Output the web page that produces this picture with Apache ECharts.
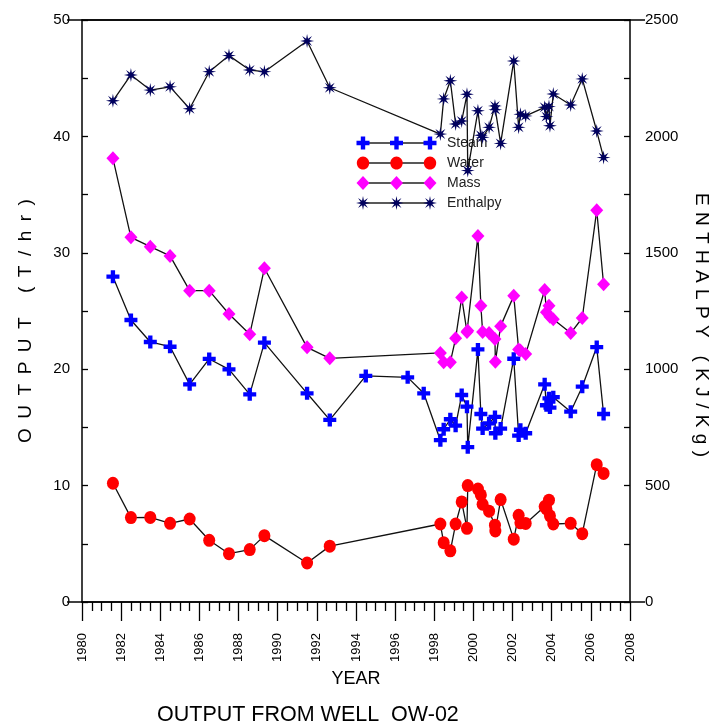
<!DOCTYPE html>
<html>
<head>
<meta charset="utf-8">
<script src="https://cdn.jsdelivr.net/npm/echarts@6/dist/echarts.min.js"></script>
<style>
  html, body { margin: 0; padding: 0; background: #fff; overflow: hidden; }
  #chart { width: 714px; height: 726px; }
</style>
</head>
<body>
<div id="chart"></div>
<script>
// Sampling dates (decimal years) shared by every series; null = not measured that day
const years = [
  1981.58, 1982.50, 1983.49, 1984.50, 1985.50, 1986.50, 1987.51, 1988.57, 1989.32,
  1991.50, 1992.66, 1994.50, 1996.64, 1997.46,
  1998.31, 1998.48, 1998.82, 1999.09, 1999.40, 1999.67, 1999.71, 2000.23, 2000.38,
  2000.47, 2000.80, 2001.10, 2001.12, 2001.39, 2002.06, 2002.31, 2002.40, 2002.67,
  2003.64, 2003.73, 2003.86, 2003.91, 2004.08, 2004.97, 2005.56, 2006.30, 2006.65
];

// Steam flow, T/hr
const steam = [
  27.95, 24.23, 22.34, 21.93, 18.70, 20.88, 19.99, 17.84, 22.28,
  17.93, 15.64, 19.42, 19.30, 17.93,
  13.90, 14.84, 15.70, 15.15, 17.78, 16.78, 13.30, 21.70, 16.15,
  14.90, 15.35, 15.90, 14.50, 14.90, 20.90, 14.30, 14.80, 14.50,
  18.70, 16.90, 17.50, 16.70, 17.60, 16.35, 18.50, 21.90, 16.15
];

// Water flow, T/hr
const water = [
  10.20, 7.25, 7.27, 6.76, 7.13, 5.30, 4.15, 4.50, 5.70,
  3.35, 4.80, null, null, null,
  6.70, 5.10, 4.40, 6.70, 8.60, 6.33, 10.00, 9.70, 9.20,
  8.40, 7.80, 6.60, 6.10, 8.80, 5.40, 7.45, 6.80, 6.75,
  8.20, 8.00, 8.75, 7.40, 6.70, 6.76, 5.87, 11.80, 11.05
];

// Total mass flow, T/hr
const mass = [
  38.12, 31.33, 30.53, 29.73, 26.75, 26.75, 24.74, 23.00, 28.67,
  21.88, 20.93, null, null, null,
  21.40, 20.60, 20.60, 22.65, 26.15, 23.20, 23.30, 31.45, 25.45,
  23.20, 23.10, 22.60, 20.65, 23.70, 26.30, 21.70, 21.60, 21.30,
  26.80, 24.90, 25.45, 24.50, 24.30, 23.10, 24.40, 33.65, 27.30
];

// Discharge enthalpy, kJ/kg
const enthalpy = [
  2153, 2264, 2199, 2213, 2119, 2278, 2347, 2285, 2278,
  2410, 2209, null, null, null,
  2010, 2161, 2239, 2053, 2066, 2181, 1853, 2110, 2005,
  1996, 2039, 2131, 2115, 1970, 2324, 2039, 2095, 2088,
  2125, 2085, 2128, 2046, 2182, 2135, 2247, 2023, 1909
];

const seriesNames = ['Steam', 'Water', 'Mass', 'Enthalpy'];
const seriesColors = ['#0000ff', '#ff0000', '#ff00ff', '#00005e'];
const yearRange = [1980, 2008];
const outputRange = [0, 50];
const enthalpyRange = [0, 2500];

const FONT = '"Liberation Sans", Arial, sans-serif';
// wide letter spacing for the axis titles
const spaced = (s, gap) => s.split('').join(gap);

// marker shapes (unit boxes, ECharts scales them to symbolSize)
const PLUS = 'path://M4,0H8V4H12V8H8V12H4V8H0V4H4Z';
function starPath(n, rOut, rIn) {
  const pts = [];
  for (let i = 0; i < n * 2; i++) {
    const a = -Math.PI / 2 + i * Math.PI / n;
    const r = i % 2 ? rIn : rOut;
    pts.push([+(rOut + r * Math.cos(a)).toFixed(3), +(rOut + r * Math.sin(a)).toFixed(3)]);
  }
  return pts;
}
const STAR_PTS = starPath(8, 6, 2.1);
const STAR = 'path://M' + STAR_PTS.map(p => p.join(',')).join('L') + 'Z';
const symbols = [PLUS, 'circle', 'diamond', STAR];
const symbolSizes = [13, [12, 13], [13, 14], 14];

const pair = arr => years.map((y, i) => [y, arr[i]]);
const dataSets = [steam, water, mass, enthalpy];

const series = dataSets.map((arr, k) => ({
  name: seriesNames[k],
  type: 'line',
  yAxisIndex: k === 3 ? 1 : 0,
  data: pair(arr),
  connectNulls: true,
  symbol: symbols[k],
  symbolSize: symbolSizes[k],
  showAllSymbol: true,
  lineStyle: { color: '#111', width: 1.3 },
  itemStyle: { color: seriesColors[k], borderWidth: 0, opacity: 1 },
  emphasis: { disabled: true },
  animation: false,
  z: 2 + k
}));

// Legend drawn as a sample line carrying three markers per entry
function marker(k, cx, cy) {
  const c = seriesColors[k];
  if (k === 1) return { type: 'ellipse', shape: { cx, cy, rx: 6.2, ry: 6.6 }, style: { fill: c } };
  if (k === 2) return { type: 'polygon', shape: { points: [[cx, cy - 7], [cx + 6.5, cy], [cx, cy + 7], [cx - 6.5, cy]] }, style: { fill: c } };
  if (k === 0) {
    const a = 2.2, b = 6.5;
    return { type: 'polygon', shape: { points: [
      [cx - a, cy - b], [cx + a, cy - b], [cx + a, cy - a], [cx + b, cy - a], [cx + b, cy + a], [cx + a, cy + a],
      [cx + a, cy + b], [cx - a, cy + b], [cx - a, cy + a], [cx - b, cy + a], [cx - b, cy - a], [cx - a, cy - a]] }, style: { fill: c } };
  }
  return { type: 'polygon', shape: { points: STAR_PTS.map(p => [cx - 7 + p[0] * 14 / 12, cy - 7 + p[1] * 14 / 12]) }, style: { fill: c } };
}
const legendElems = [];
seriesNames.forEach((nm, k) => {
  const y = 143 + k * 20;
  legendElems.push({ type: 'line', shape: { x1: 363, y1: y, x2: 430, y2: y }, style: { stroke: '#222', lineWidth: 1.5 } });
  [363, 396.5, 430].forEach(x => legendElems.push(marker(k, x, y)));
  legendElems.push({ type: 'text', x: 447, y: y, style: { text: nm, font: '14px ' + FONT, fill: '#222', verticalAlign: 'middle' } });
});

const plain = v => String(v);

const chart = echarts.init(document.getElementById('chart'), null, { renderer: 'canvas' });
chart.setOption({
  backgroundColor: '#fff',
  animation: false,
  title: {
    text: 'OUTPUT FROM WELL  OW-02',
    left: 152, top: 699,
    textStyle: { fontFamily: FONT, fontSize: 21.5, fontWeight: 'normal', color: '#000' }
  },
  grid: { left: 82, right: 84, top: 20, bottom: 124, containLabel: false, outerBoundsMode: 'none' },
  xAxis: [{
    type: 'value', min: yearRange[0], max: yearRange[1], interval: 2,
    axisLine: { show: true, onZero: false, lineStyle: { color: '#000', width: 1.5 } },
    axisTick: { show: true, inside: false, length: 19, lineStyle: { color: '#000', width: 1.3 } },
    minorTick: { show: true, splitNumber: 4, length: 9, lineStyle: { color: '#000', width: 1.3 } },
    splitLine: { show: false },
    axisLabel: { rotate: 90, margin: 31, fontSize: 13, color: '#000', fontFamily: FONT, formatter: plain },
    name: 'YEAR', nameLocation: 'middle', nameGap: 58,
    nameTextStyle: { fontSize: 18, color: '#000', fontFamily: FONT }
  }, {
    type: 'value', position: 'top', min: yearRange[0], max: yearRange[1],
    axisLine: { show: true, onZero: false, lineStyle: { color: '#000', width: 1.5 } },
    axisTick: { show: false }, axisLabel: { show: false }, splitLine: { show: false }
  }],
  yAxis: [{
    type: 'value', position: 'left', min: outputRange[0], max: outputRange[1], interval: 10,
    axisLine: { show: true, lineStyle: { color: '#000', width: 1.5 } },
    axisTick: { show: true, inside: true, length: 6, lineStyle: { color: '#000', width: 1.3 } },
    minorTick: { show: true, splitNumber: 2, length: 6, lineStyle: { color: '#000', width: 1.3 } },
    splitLine: { show: false },
    axisLabel: { margin: 12, fontSize: 15, color: '#000', fontFamily: FONT, formatter: plain },
    name: spaced('OUTPUT (T/hr)', '\u2002'), nameLocation: 'middle', nameGap: 47,
    nameTextStyle: { fontSize: 19, color: '#000', fontFamily: FONT, padding: [0, 20, 0, 0] }
  }, {
    type: 'value', position: 'right', min: enthalpyRange[0], max: enthalpyRange[1], interval: 500,
    axisLine: { show: true, lineStyle: { color: '#000', width: 1.5 } },
    axisTick: { show: true, inside: true, length: 6, lineStyle: { color: '#000', width: 1.3 } },
    minorTick: { show: true, splitNumber: 2, length: 6, lineStyle: { color: '#000', width: 1.3 } },
    splitLine: { show: false },
    axisLabel: { margin: 15, fontSize: 15, color: '#000', fontFamily: FONT, formatter: plain },
    name: spaced('ENTHALPY (KJ/Kg)', '\u2004'), nameLocation: 'middle', nameGap: 62, nameRotate: -90,
    nameTextStyle: { fontSize: 19, color: '#000', fontFamily: FONT, padding: [0, 0, 0, 28] }
  }],
  series: series,
  graphic: [
    // frame lines overhang the plot a little on both sides
    { type: 'line', shape: { x1: 67, y1: 20, x2: 645, y2: 20 }, style: { stroke: '#000', lineWidth: 1.5 }, z: 10 },
    { type: 'line', shape: { x1: 67, y1: 602, x2: 645, y2: 602 }, style: { stroke: '#000', lineWidth: 1.5 }, z: 10 },
    { type: 'group', children: legendElems, z: 1 }
  ]
});
</script>
</body>
</html>
